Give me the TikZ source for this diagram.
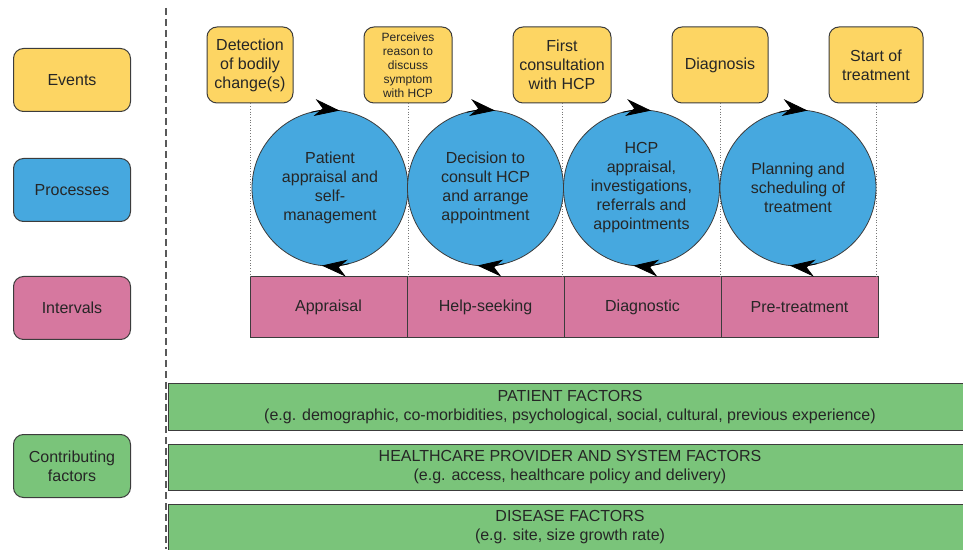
\documentclass[tikz,border=0pt]{standalone}
\usepackage{fontspec}
\setmainfont{Liberation Sans}
\usepackage{xcolor}
\usetikzlibrary{positioning,arrows.meta}

\definecolor{evyellow}{HTML}{FDD563}
\definecolor{prblue}{HTML}{46A8DF}
\definecolor{inpink}{HTML}{D6789F}
\definecolor{cfgreen}{HTML}{7AC47A}
\definecolor{edge}{HTML}{3C3C3C}
\definecolor{ink}{HTML}{262626}

\begin{document}
\begin{tikzpicture}[x=1pt, y=1pt,
    every node/.style={text=ink, font=\fontsize{16}{19}\selectfont, align=center, inner sep=0pt},
    legend/.style={draw=edge, line width=1pt, rounded corners=10pt, minimum width=117pt, minimum height=63pt},
    event/.style={legend, fill=evyellow, minimum width=86pt, minimum height=76pt},
    process/.style={circle, draw=edge, line width=0.8pt, fill=prblue, minimum size=156pt},
    interval/.style={draw=edge, line width=1pt, fill=inpink, minimum width=157pt, minimum height=61pt},
    factor/.style={draw=edge, line width=1pt, fill=cfgreen, minimum width=804pt, minimum height=46pt},
    spin/.style={-{Stealth[length=25pt, width=17pt, inset=8pt]}, line width=0.8pt, black}]
\useasboundingbox (0,0) rectangle (963,549);
\draw[edge!85, line width=1.3pt, dash pattern=on 7pt off 4pt] (166,541) -- (166,0);

% legend
\node[legend, fill=evyellow] (lgev) at (72,469) {Events};
\node[legend, fill=prblue] (lgpr) at (72,359) {Processes};
\node[legend, fill=inpink] (lgin) at (72,241) {Intervals};
\node[legend, fill=cfgreen] (lgcf) at (72,83) {Contributing\\factors};

% events
\node[event] (ev1) at (250,484) {Detection\\of bodily\\change(s)};
\node[event, minimum width=88pt, font=\fontsize{12}{14}\selectfont] (ev2) at (408,484) {Perceives\\reason to\\discuss\\symptom\\with HCP};
\node[event, minimum width=98pt] (ev3) at (562,484) {First\\consultation\\with HCP};
\node[event, minimum width=96pt] (ev4) at (720,484) {Diagnosis};
\node[event, minimum width=94pt] (ev5) at (876,484) {Start of\\treatment};

% intervals
\node[interval] (in1) at (328.5,241.5) {Appraisal};
\node[interval, right=-1pt of in1] (in2) {Help-seeking};
\node[interval, right=-1pt of in2] (in3) {Diagnostic};
\node[interval, right=-1pt of in3] (in4) {Pre-treatment};

\foreach \e in {1,...,5}
  \draw[edge!70, dotted, line width=0.7pt] (ev\e.south) -- (ev\e.south |- in1.north);

% processes
\node[process] (pr1) at (330,361) {Patient\\appraisal and\\self-\\management};
\node[process] (pr2) at (485.5,361) {Decision to\\consult HCP\\and arrange\\appointment};
\node[process] (pr3) at (641.5,361) {HCP\\appraisal,\\investigations,\\referrals and\\appointments};
\node[process] (pr4) at (798,361) {Planning and\\scheduling of\\treatment};

\foreach \p in {1,...,4}{
  \draw[spin] ([shift={(104:78)}]pr\p.center) arc[start angle=104, end angle=83, radius=78];
  \draw[spin] ([shift={(-76:78)}]pr\p.center) arc[start angle=-76, end angle=-96, radius=78];
}

% contributing factors
\node[factor] (cf1) at (570,142) {PATIENT FACTORS\\(e.g. demographic, co-morbidities, psychological, social, cultural, previous experience)};
\node[factor, below=13pt of cf1] (cf2) {HEALTHCARE PROVIDER AND SYSTEM FACTORS\\(e.g. access, healthcare policy and delivery)};
\node[factor, below=13pt of cf2] (cf3) {DISEASE FACTORS\\(e.g. site, size growth rate)};
\end{tikzpicture}
\end{document}
